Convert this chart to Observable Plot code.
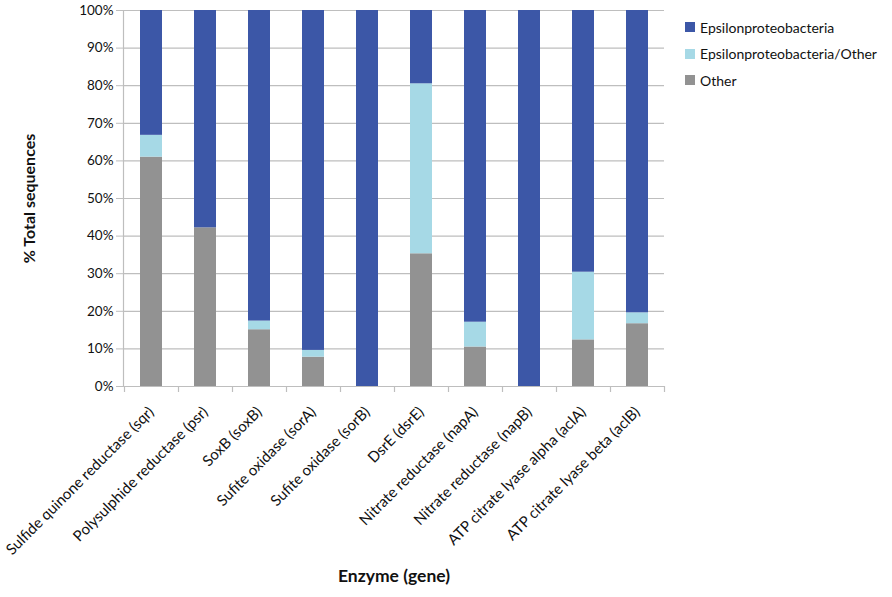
<!DOCTYPE html>
<html>
<head>
<meta charset="utf-8">
<script src="https://cdn.jsdelivr.net/npm/d3@7"></script>
<script src="https://cdn.jsdelivr.net/npm/@observablehq/plot@0.6"></script>
<style>
  html, body { margin: 0; padding: 0; background: #fff; }
  #wrap { position: relative; width: 892px; height: 597px; font-family: Lato, "Open Sans", sans-serif; }
  #legend { position: absolute; left: 685px; top: 14px; font-size: 14px; color: #111; }
  #legend div { display: flex; align-items: center; height: 26.5px; }
  #legend span.sw { display: inline-block; width: 10px; height: 10px; margin-right: 5px; }
</style>
</head>
<body>
<div id="wrap"><div id="legend"></div></div>
<script>
const categories = [
  "Sulfide quinone reductase (sqr)",
  "Polysulphide reductase (psr)",
  "SoxB (soxB)",
  "Sufite oxidase (sorA)",
  "Sufite oxidase (sorB)",
  "DsrE (dsrE)",
  "Nitrate reductase (napA)",
  "Nitrate reductase (napB)",
  "ATP citrate lyase alpha (aclA)",
  "ATP citrate lyase beta (aclB)"
];
const seriesNames = ["Other", "Epsilonproteobacteria/Other", "Epsilonproteobacteria"];
const otherValues      = [61.0, 42.2, 15.1,  7.8,   0, 35.3, 10.5,   0, 12.4, 16.7];
const epsOtherValues   = [ 5.8,  0.0,  2.3,  1.8,   0, 45.2,  6.6,   0, 18.0,  2.9];
const epsilonValues    = [33.2, 57.8, 82.6, 90.4, 100, 19.5, 82.9, 100, 69.6, 80.4];
const yTicks = [0, 10, 20, 30, 40, 50, 60, 70, 80, 90, 100];
const colors = ["#929292", "#A6D9E6", "#3C57A7"];

const seriesValues = [otherValues, epsOtherValues, epsilonValues];
const table = [];
seriesNames.forEach((s, si) => {
  categories.forEach((c, ci) => table.push({enzyme: c, series: s, value: seriesValues[si][ci]}));
});

const grid = "#BEBEBE";
const chart = Plot.plot({
  width: 892,
  height: 597,
  marginLeft: 123,
  marginRight: 228,
  marginTop: 10,
  marginBottom: 211,
  style: {fontFamily: "Lato, 'Open Sans', sans-serif", fontSize: "13.5px", color: "#111"},
  x: {domain: categories, paddingInner: 0.6, paddingOuter: 0.3, label: null},
  y: {domain: [0, 100], label: null},
  color: {domain: seriesNames, range: colors},
  marks: [
    Plot.ruleY(yTicks.filter(d => d > 0), {stroke: grid, strokeWidth: 1.2}),
    Plot.barY(table, {x: "enzyme", y: "value", fill: "series", order: seriesNames}),
    Plot.ruleX(categories, {x: d => d, dx: -27, stroke: grid, strokeWidth: 1.2, insetTop: 376, insetBottom: -6}),
    Plot.ruleX(categories.slice(-1), {x: d => d, dx: 27, stroke: grid, strokeWidth: 1.2, insetTop: 376, insetBottom: -6}),
    Plot.ruleY([0], {stroke: grid, strokeWidth: 1.2}),
    Plot.axisY({ticks: yTicks, tickFormat: d => d + "%", tickSize: 7, tickPadding: 3, stroke: grid, fontSize: 13.5, label: null}),
    Plot.axisY({ticks: [], tickSize: 0, label: "% Total sequences", labelAnchor: "center", labelOffset: 100, labelArrow: false, fontWeight: "bold", fontSize: 16}),
    Plot.frame({anchor: "left", stroke: grid, strokeWidth: 1.2}),
    Plot.axisX({tickSize: 0, tickRotate: -45, tickPadding: 23, fontSize: 15, label: null}),
    Plot.text(["Enzyme (gene)"], {frameAnchor: "bottom", dy: 195, fontWeight: "bold", fontSize: 17.5})
  ]
});
document.getElementById("wrap").prepend(chart);

const legend = document.getElementById("legend");
[2, 1, 0].forEach(i => {
  const row = document.createElement("div");
  const sw = document.createElement("span");
  sw.className = "sw";
  sw.style.background = colors[i];
  row.appendChild(sw);
  row.appendChild(document.createTextNode(seriesNames[i]));
  legend.appendChild(row);
});
</script>
</body>
</html>
